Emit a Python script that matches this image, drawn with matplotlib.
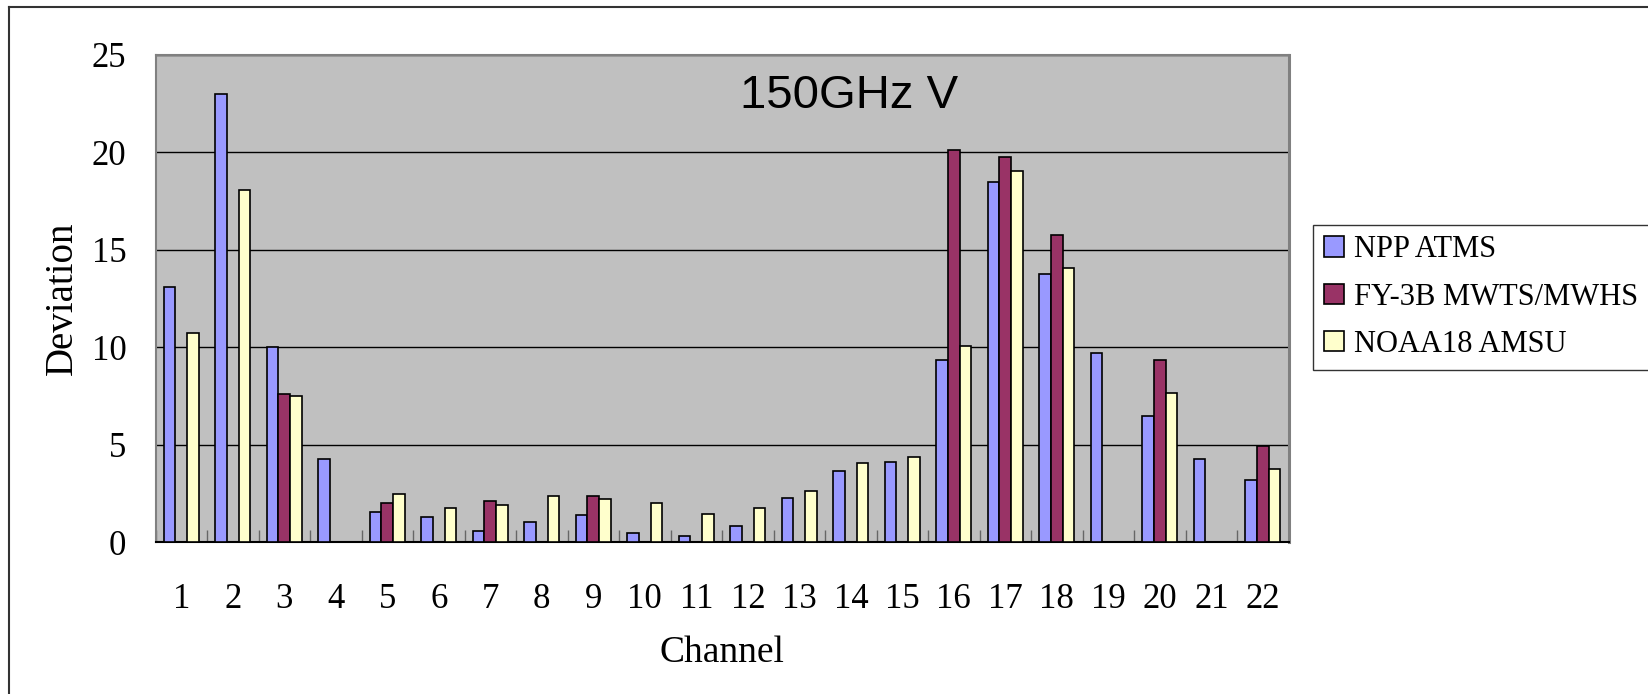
import numpy as np
import matplotlib
matplotlib.use("Agg")
import matplotlib.pyplot as plt
from matplotlib.lines import Line2D

nan = np.nan

# datos (150GHz V)
channels = [str(i) for i in range(1, 23)]
npp_atms = [13.1, 23.0, 10.0, 4.28, 1.55, 1.29, 0.58, 1.05, 1.41, 0.46, 0.33,
            0.82, 2.25, 3.68, 4.14, 9.37, 18.46, 13.74, 9.69, 6.50, 4.25, 3.19]
fy3b = [nan, nan, 7.59, nan, 2.03, nan, 2.13, nan, 2.37, nan, nan,
        nan, nan, nan, nan, 20.1, 19.74, 15.73, nan, 9.33, nan, 4.95]
noaa18 = [10.72, 18.08, 7.49, nan, 2.49, 1.77, 1.89, 2.37, 2.23, 2.01, 1.43,
          1.75, 2.61, 4.04, 4.38, 10.06, 19.04, 14.08, nan, 7.66, nan, 3.77]
series_names = ['NPP ATMS', 'FY-3B MWTS/MWHS', 'NOAA18 AMSU']
colores = ['#9999FF', '#993366', '#FFFFCC']

serif = 'Liberation Serif'

fig = plt.figure(figsize=(16.48, 6.94), dpi=100)
ax = fig.add_axes([0.0944, 0.2186, 0.6875, 0.7026])
ax.set_facecolor('#C0C0C0')

x = np.arange(len(channels))
w = 0.227
for k, (vals, name, c) in enumerate(zip([npp_atms, fy3b, noaa18], series_names, colores)):
    ax.bar(x + (k - 1) * w, vals, w, color=c, edgecolor='black', linewidth=1.2,
           label=name, zorder=3)

ax.set_xlim(-0.5, len(channels) - 0.5)
ax.set_ylim(0, 25)
ax.set_yticks(np.arange(0, 26, 5))
ax.yaxis.grid(True, color='black', linewidth=1.0)
ax.set_axisbelow(True)

# marcas entre grupos, etiquetas en el centro
ax.set_xticks(np.arange(-0.5, len(channels), 1.0))
ax.set_xticklabels([])
ax.set_xticks(x, channels, minor=True)
ax.tick_params(axis='x', which='major', direction='in', length=8.5, width=1, color='#666666')
ax.tick_params(axis='x', which='minor', length=0, pad=29, labelsize=25)
ax.tick_params(axis='y', length=0, pad=21, labelsize=25)
for lab in ax.get_xticklabels(minor=True) + ax.get_yticklabels():
    lab.set_fontfamily(serif)

for s in ['left', 'top', 'right']:
    ax.spines[s].set_color('#808080')
    ax.spines[s].set_linewidth(1.5)
ax.spines['right'].set_linewidth(2.2)
ax.spines['bottom'].set_color('black')
ax.spines['bottom'].set_linewidth(1.5)

ax.set_xlabel('Channel', fontfamily=serif, fontsize=27, labelpad=14)
ax.set_ylabel('Deviation', fontfamily=serif, fontsize=28, labelpad=8)

ax.text(0.612, 0.915, '150GHz V', transform=ax.transAxes, ha='center', va='center',
        fontsize=34, fontfamily='Liberation Sans')

leg = fig.legend(loc='center left', bbox_to_anchor=(0.7967, 0.572),
                 prop={'family': serif, 'size': 22}, frameon=True, fancybox=False,
                 handlelength=0.65, handleheight=0.65, handletextpad=0.35,
                 labelspacing=0.6, borderpad=0.35, borderaxespad=0)
leg.get_frame().set_edgecolor('black')
leg.get_frame().set_linewidth(1.0)

# borde exterior
x0, y0 = 8.5 / 1648, 1 - 6.5 / 694
fig.add_artist(Line2D([x0, x0], [0, y0], transform=fig.transFigure, color='#333333', lw=1.5))
fig.add_artist(Line2D([x0, 1], [y0, y0], transform=fig.transFigure, color='#333333', lw=1.5))

fig.savefig('out.png', dpi=100)
